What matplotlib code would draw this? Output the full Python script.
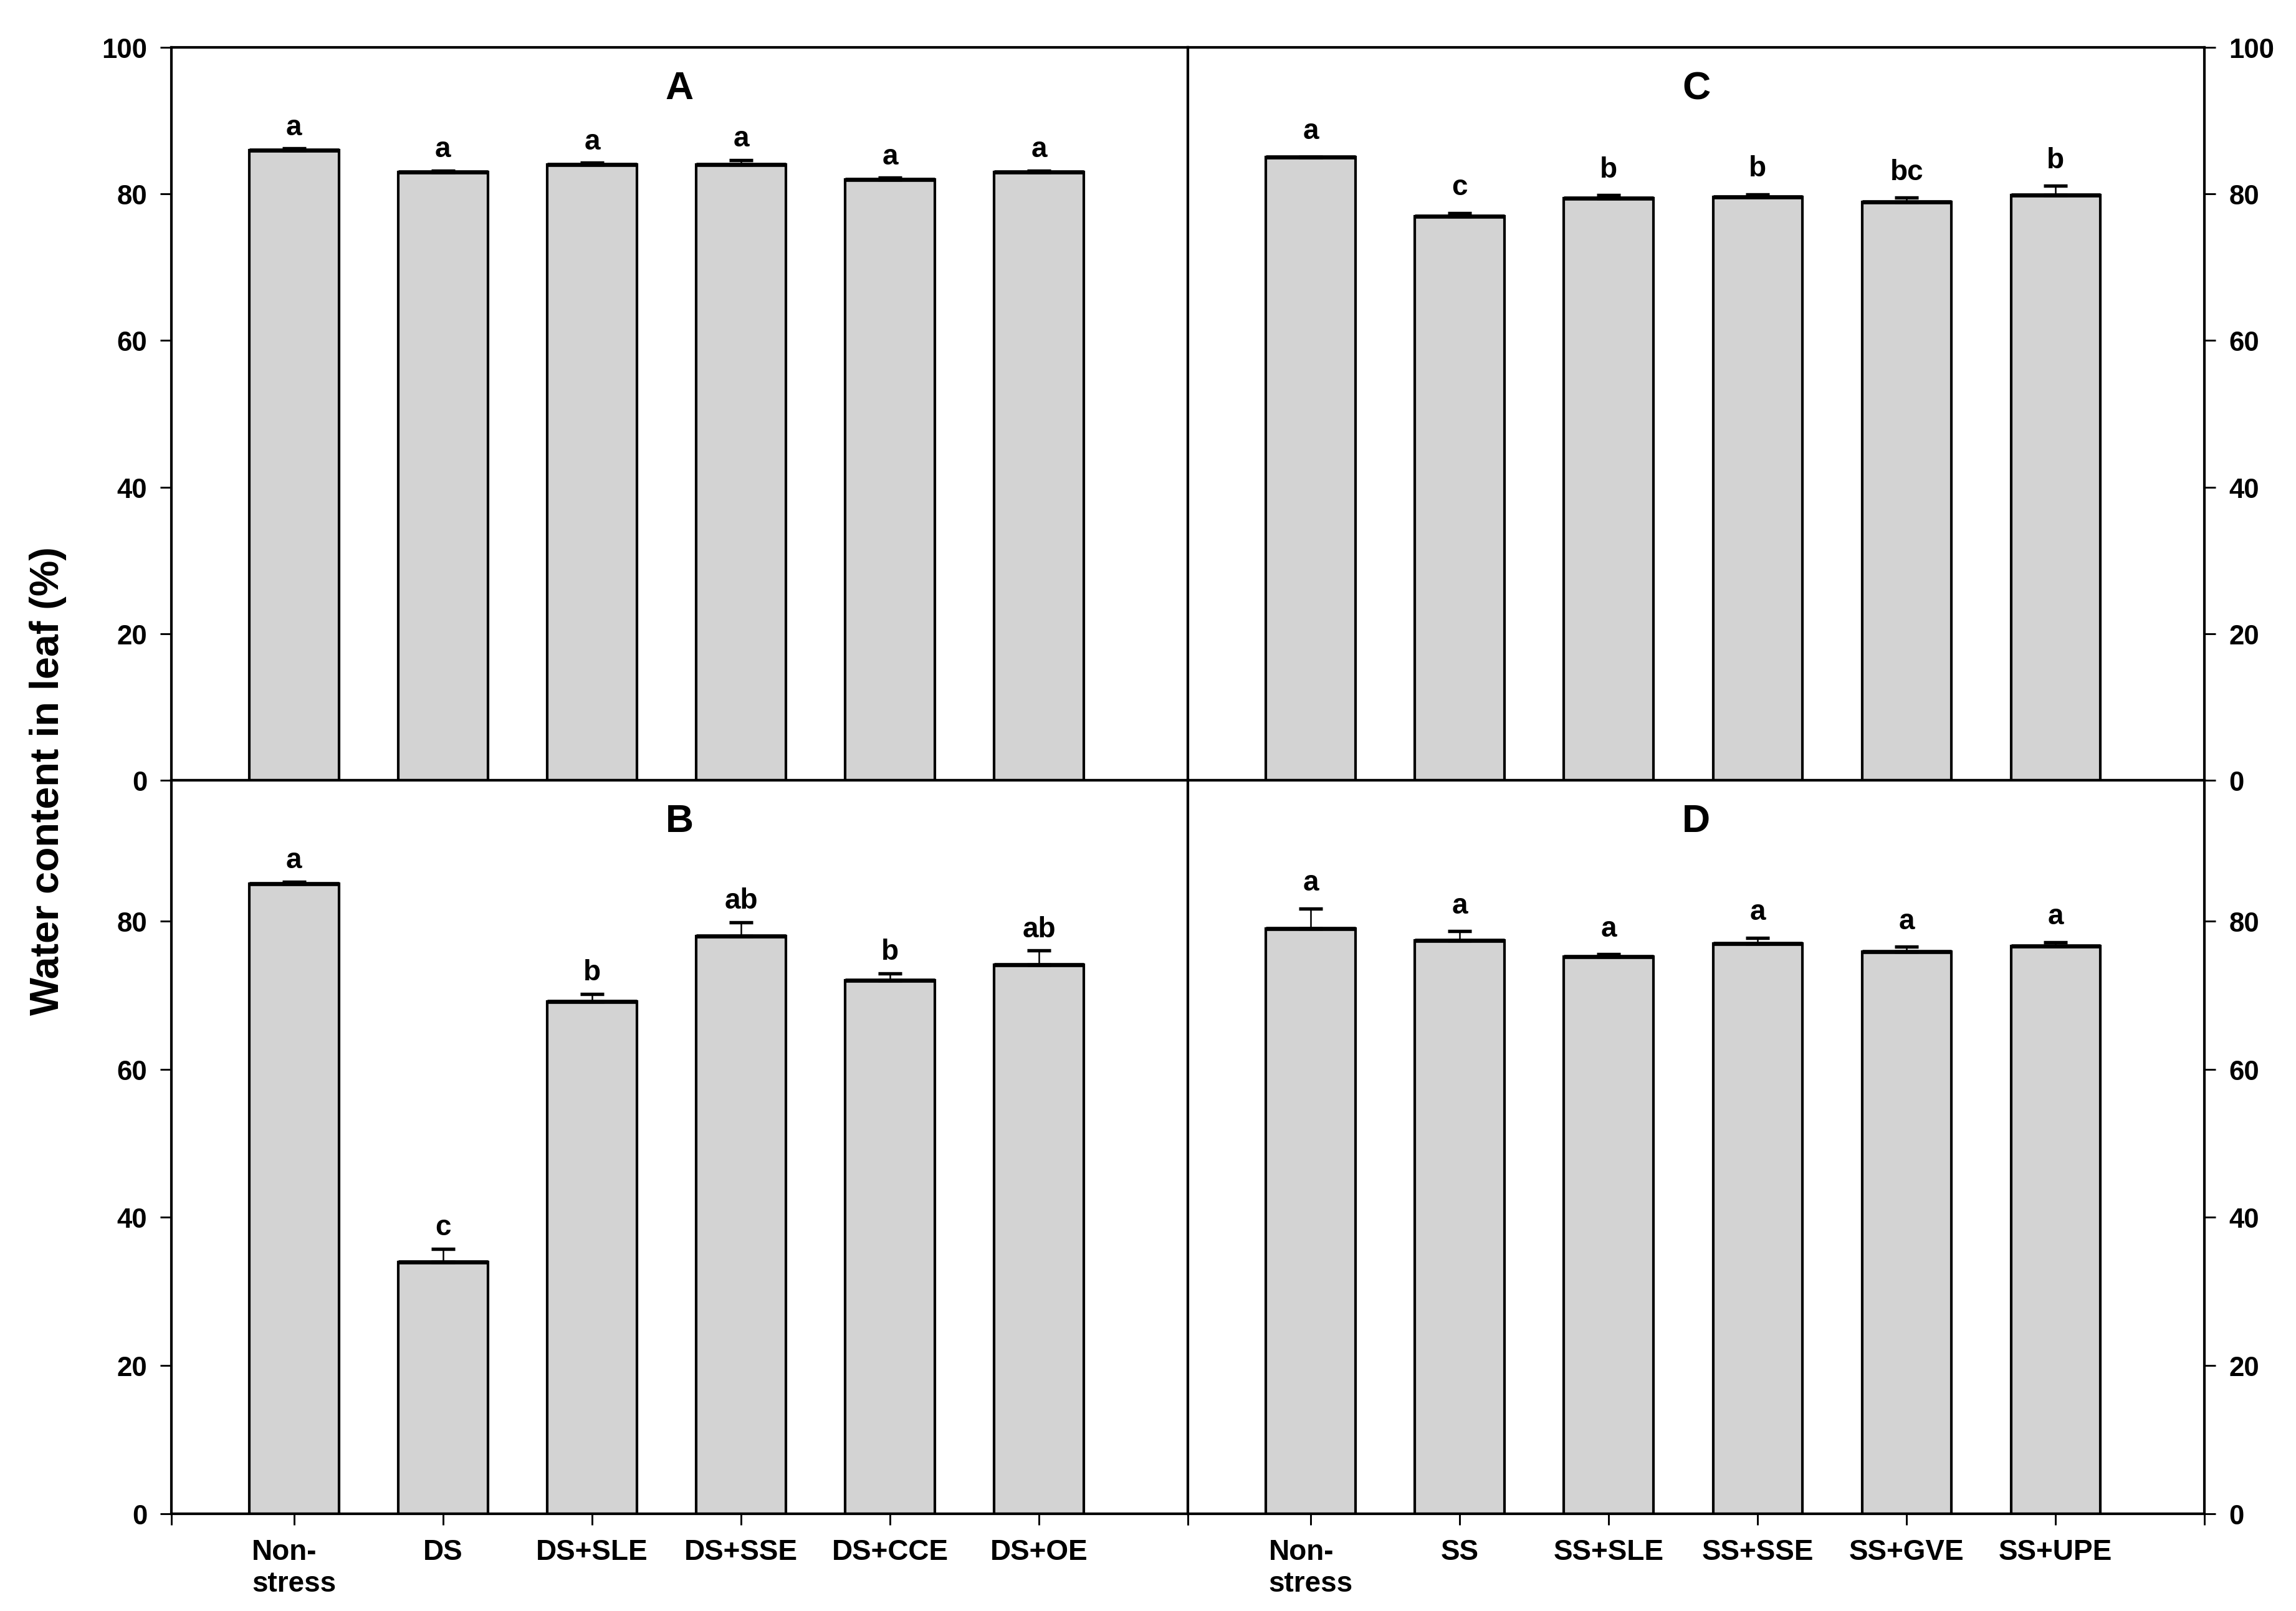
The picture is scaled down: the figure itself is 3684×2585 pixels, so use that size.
import numpy as np
import matplotlib
matplotlib.use('Agg')
import matplotlib.pyplot as plt

plt.rcParams['font.family'] = ['Liberation Sans', 'DejaVu Sans']
plt.rcParams['font.weight'] = 'bold'

# Treatments
cats_drought = ['Non-\nstress', 'DS', 'DS+SLE', 'DS+SSE', 'DS+CCE', 'DS+OE']
cats_salt = ['Non-\nstress', 'SS', 'SS+SLE', 'SS+SSE', 'SS+GVE', 'SS+UPE']

# Water content in leaf (%) and standard errors
a_vals = [86.0, 83.0, 84.0, 84.0, 82.0, 83.0]
a_err = [0.2, 0.2, 0.25, 0.65, 0.2, 0.2]
a_letters = ['a', 'a', 'a', 'a', 'a', 'a']

b_vals = [85.0, 34.0, 69.1, 78.0, 72.0, 74.1]
b_err = [0.3, 1.75, 1.05, 1.85, 0.95, 1.9]
b_letters = ['a', 'c', 'b', 'ab', 'b', 'ab']

c_vals = [85.05, 77.0, 79.4, 79.6, 78.95, 79.85]
c_err = [0.0, 0.4, 0.45, 0.35, 0.55, 1.25]
c_letters = ['a', 'c', 'b', 'b', 'bc', 'b']

d_vals = [79.0, 77.4, 75.2, 77.0, 75.85, 76.6]
d_err = [2.7, 1.2, 0.3, 0.75, 0.65, 0.55]
d_letters = ['a', 'a', 'a', 'a', 'a', 'a']

fig = plt.figure(figsize=(12.28, 8.62), dpi=300)

left_x, right_x, w = 0.0746, 0.5174, 0.4428
top_y, bot_y = 0.5155, 0.0603
h_top, h_bot = 0.4547, 0.4552

panels = [
    # rect, vals, err, letters, cats, title, side, bottom row, letter offset
    ([left_x, top_y, w, h_top], a_vals, a_err, a_letters, cats_drought, 'A', 'left', False, 1.9),
    ([left_x, bot_y, w, h_bot], b_vals, b_err, b_letters, cats_drought, 'B', 'left', True, 1.9),
    ([right_x, top_y, w, h_top], c_vals, c_err, c_letters, cats_salt, 'C', 'right', False, 2.5),
    ([right_x, bot_y, w, h_bot], d_vals, d_err, d_letters, cats_salt, 'D', 'right', True, 2.5),
]

x = np.arange(1, 7)
bar_w = 0.6
xlim = (0.176, 7.0)

for rect, vals, err, letters, cats, title, side, bottom, off in panels:
    ax = fig.add_axes(rect)
    ax.bar(x, vals, width=bar_w, color='#d3d3d3', edgecolor='black',
           linewidth=1.0, zorder=2)
    ax.hlines(vals, x - bar_w / 2, x + bar_w / 2, color='black',
              linewidth=1.6, zorder=3)
    ax.errorbar(x, vals, yerr=[np.zeros(len(err)), err], fmt='none',
                ecolor='black', elinewidth=0.6, capsize=4.5, capthick=1.3,
                zorder=3)
    for xi, v, e, lab in zip(x, vals, err, letters):
        ax.text(xi, v + e + off, lab, ha='center', va='baseline',
                fontsize=11, fontweight='bold')

    ax.text(0.5, 0.93, title, transform=ax.transAxes, ha='center',
            va='baseline', fontsize=15, fontweight='bold')

    ax.set_xlim(*xlim)
    if bottom:
        ax.set_ylim(0, 99)
        ax.set_yticks([0, 20, 40, 60, 80])
        ax.set_xticks(x)
        ax.set_xticklabels(cats, fontsize=11, fontweight='bold',
                           multialignment='left')
        ax.set_xticks(list(xlim), minor=True)
        ax.tick_params(axis='x', which='both', direction='out', length=4.3,
                       width=0.7, pad=5)
    else:
        ax.set_ylim(0, 100)
        ax.set_yticks([0, 20, 40, 60, 80, 100])
        ax.set_xticks([])

    if side == 'right':
        ax.yaxis.tick_right()
    ax.tick_params(axis='y', direction='out', length=4.3, width=0.7,
                   pad=5, labelsize=10.5)
    for lab in ax.get_yticklabels():
        lab.set_fontweight('bold')

    for s in ax.spines.values():
        s.set_linewidth(1.0)

fig.text(0.021, 0.5155, 'Water content in leaf (%)', rotation=90,
         ha='center', va='center', fontsize=15.5, fontweight='bold')

fig.savefig('out.png', dpi=300)
